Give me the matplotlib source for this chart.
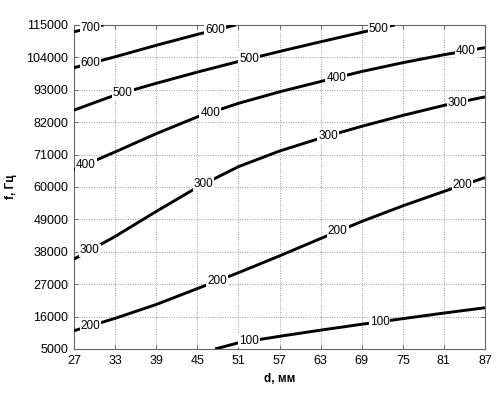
import matplotlib.pyplot as plt
import numpy as np

plt.rcParams["font.family"] = ["Liberation Sans", "DejaVu Sans"]

# isolines: (d, f) points for each level
levels = [100, 200, 300, 400, 500, 600, 700]
line_d = {
    100: [47.6, 51.0, 57.0, 63.0, 69.0, 75.0, 81.0, 87.0],
    200: [27.0, 33.0, 39.0, 45.0, 51.0, 57.0, 63.0, 69.0, 75.0, 81.0, 87.0],
    300: [27.0, 33.0, 39.0, 45.0, 51.0, 57.0, 63.0, 69.0, 75.0, 81.0, 87.0],
    400: [27.0, 33.0, 39.0, 45.0, 51.0, 57.0, 63.0, 69.0, 75.0, 81.0, 87.0],
    500: [27.0, 33.0, 39.0, 45.0, 51.0, 57.0, 63.0, 69.0, 73.8],
    600: [27.0, 33.0, 39.0, 45.0, 50.6],
    700: [27.0, 31.3],
}
line_f = {
    100: [5000, 7100, 9300, 11400, 13400, 15300, 17200, 19000],
    200: [11200, 15400, 20100, 25500, 30900, 36600, 42500, 48300, 53600, 58500, 63200],
    300: [35500, 43200, 51700, 59900, 66900, 72200, 76600, 80600, 84300, 87700, 90600],
    400: [65900, 71900, 78100, 83800, 88400, 92300, 95800, 99200, 102200, 104900, 107300],
    500: [86100, 91200, 95200, 99000, 102600, 106000, 109300, 112500, 115000],
    600: [100500, 104200, 108100, 111800, 115000],
    700: [112700, 115000],
}
# where the inline labels sit along each line (d, mm)
label_d = {
    100: [52.6, 71.6],
    200: [29.4, 47.9, 65.5, 83.7],
    300: [29.3, 45.9, 64.1, 83.0],
    400: [28.7, 46.9, 65.3, 84.2],
    500: [34.1, 52.6, 71.5],
    600: [29.4, 47.6],
    700: [29.4],
}

x_ticks = np.arange(27, 88, 6)
y_ticks = np.arange(5000, 115001, 11000)

fig = plt.figure(figsize=(5.0, 3.96), dpi=100)
ax = fig.add_axes([0.148, 0.1187, 0.822, 0.8182])

for lev in levels:
    d = np.array(line_d[lev])
    f = np.array(line_f[lev])
    ax.plot(d, f, color="black", lw=2.1, solid_capstyle="butt",
            solid_joinstyle="round", zorder=3)
    for dl in label_d[lev]:
        fl = np.interp(dl, d, f)
        ax.text(dl, fl, str(lev), ha="center", va="center", fontsize=8.5,
                zorder=4,
                bbox=dict(boxstyle="square,pad=0.08", fc="white", ec="none"))

ax.set_xlim(27, 87)
ax.set_ylim(5000, 115000)
ax.set_xticks(x_ticks)
ax.set_yticks(y_ticks)
ax.set_xticklabels([str(v) for v in x_ticks])
ax.set_yticklabels([str(v) for v in y_ticks])
ax.grid(True, color="#9a9a9a", linestyle=(0, (1, 1.5)), linewidth=0.7)
ax.set_axisbelow(True)
ax.tick_params(direction="in", length=3, width=0.6, labelsize=9, pad=4,
               top=True, right=True, colors="#555555", labelcolor="black")
for sp in ax.spines.values():
    sp.set_color("#666666")
    sp.set_linewidth(0.8)

ax.set_xlabel("d, мм", fontsize=8.5, fontweight="bold", labelpad=5)
ax.set_ylabel("f, Гц", fontsize=8.5, fontweight="bold", labelpad=7)

fig.savefig("out.png", dpi=100)
